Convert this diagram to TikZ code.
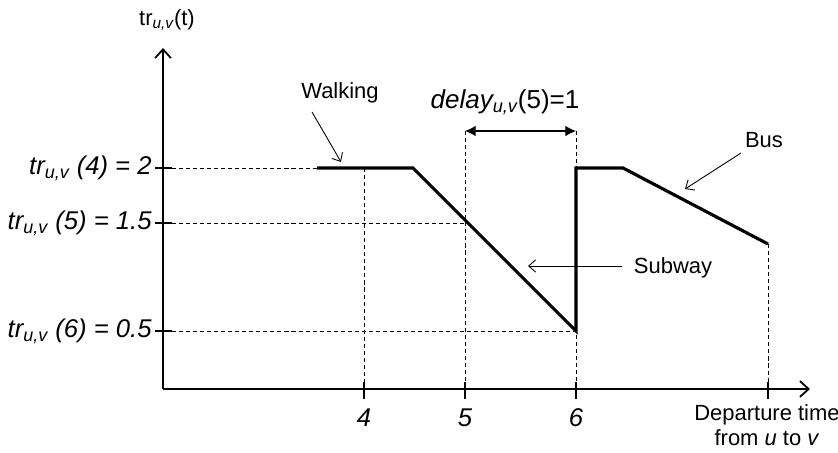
\documentclass[tikz,border=0pt]{standalone}
\usepackage{fontspec}
\setmainfont{Liberation Sans}
\usetikzlibrary{arrows.meta}

\begin{document}
\begin{tikzpicture}
\tikzset{ >={Straight Barb[length=5pt,width=9pt]},
  lbl/.style={font=\fontsize{12.5}{14}\selectfont},
  val/.style={font=\fontsize{14.6}{17}\selectfont\itshape},
  guide/.style={line width=0.45pt, dash pattern=on 2.3pt off 1.7pt},
  axis/.style={line width=1pt},
  curve/.style={line width=1.8pt, line join=miter},
  pointer/.style={line width=0.5pt, -{Straight Barb[length=4pt,width=7pt]}},
}

\useasboundingbox (0,0) rectangle (16.76,9.06);

%\draw [lightgray, dashed](0,0) grid (16,9);

\coordinate (O)    at (3.26,1.28);
\coordinate (Ytop) at (3.26,8.10);
\coordinate (Xend) at (16.20,1.28);

\coordinate (L2)  at (3.44,5.70);
\coordinate (L15) at (3.44,4.60);
\coordinate (L05) at (3.44,2.44);

\coordinate (W1) at (6.34,5.70);
\coordinate (W2) at (8.26,5.70);
\coordinate (S1) at (11.52,2.44);
\coordinate (S2) at (11.52,5.70);
\coordinate (B1) at (12.46,5.70);
\coordinate (B2) at (15.36,4.18);

\coordinate (P5) at (9.30,4.60);
\coordinate (D5) at (9.30,6.44);
\coordinate (D6) at (11.52,6.44);

\coordinate (X4) at (7.28,1.28);
\coordinate (X5) at (9.30,1.28);
\coordinate (X6) at (11.52,1.28);
\coordinate (XB) at (15.36,1.28);
\coordinate (U4) at (7.28,5.70);

% guide lines
\draw [guide] (L2)  -- (W1);
\draw [guide] (L15) -- (P5);
\draw [guide] (L05) -- (S1);
\draw [guide] (U4)  -- (X4);
\draw [guide] (D5)  -- (X5);
\draw [guide] (D6)  -- (X6);
\draw [guide] (B2)  -- (XB);

% axes
\draw [axis, ->] (O) -- (Ytop);
\draw [axis, ->] (O) -- (Xend);

\foreach \y in {5.70,4.60,2.44}
  \draw [axis] (3.10,\y) -- (3.44,\y);
\foreach \x in {7.28,9.30,11.52,15.36}
  \draw [axis] (\x,1.08) -- (\x,1.42);

% travel time function
\draw [curve] (W1) -- (W2) -- (S1) -- (S2) -- (B1) -- (B2);

% delay
\draw [line width=0.6pt, {Latex[length=6pt,width=6pt]}-{Latex[length=6pt,width=6pt]}] (D5) -- (D6);
\node [val, font=\fontsize{14.8}{17}\selectfont] (delay) at (10.10,7.02) {\textit{delay\textsubscript{u,v}}(5)=1};

\node [lbl] (ylab) at (3.34,8.66) {tr\textsubscript{\itshape u,v}(t)};

\node [val, anchor=east, inner sep=0pt] (t2)  at (3.04,5.70) {tr\textsubscript{u,v} (4) = 2};
\node [val, anchor=east, inner sep=0pt] (t15) at (3.04,4.60) {tr\textsubscript{u,v} (5) = 1.5};
\node [val, anchor=east, inner sep=0pt] (t05) at (3.04,2.44) {tr\textsubscript{u,v} (6) = 0.5};

\node [val] (x4) at (7.28,0.70)  {4};
\node [val] (x5) at (9.30,0.70)  {5};
\node [val] (x6) at (11.52,0.70) {6};

\node [lbl, align=center] (xlab) at (15.34,0.56) {Departure time\\from \textit{u} to \textit{v}};

\node [lbl] (walk) at (6.80,7.20) {Walking};
\node [lbl] (bus)  at (15.28,6.26) {Bus};
\node [lbl] (sub)  at (13.46,3.70) {Subway};

\coordinate (wa) at (6.24,6.82);
\coordinate (wb) at (6.82,5.82);
\coordinate (ba) at (14.82,6.00);
\coordinate (bb) at (13.70,5.28);
\coordinate (sa) at (12.44,3.74);
\coordinate (sb) at (10.56,3.74);

\draw [pointer] (wa) -- (wb);
\draw [pointer] (ba) -- (bb);
\draw [pointer] (sa) -- (sb);
\end{tikzpicture}
\end{document}
